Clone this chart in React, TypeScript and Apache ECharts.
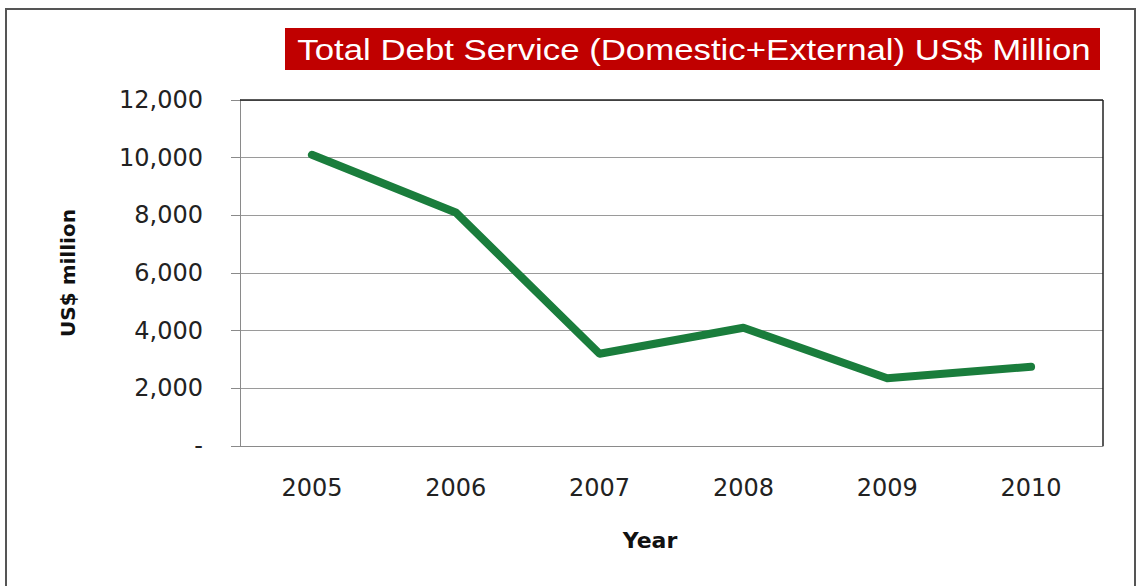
import React, { useEffect, useRef } from "react";
import * as echarts from "echarts";

const years = ["2005", "2006", "2007", "2008", "2009", "2010"];
const debtService = [10100, 8100, 3200, 4100, 2350, 2750];
const yTicks = { min: 0, max: 12000, interval: 2000 };
const titleText = "Total Debt Service (Domestic+External) US$ Million";
const yName = "US$ million";
const xName = "Year";

export default function App() {
  const ref = useRef<HTMLDivElement>(null);
  useEffect(() => {
    if (!ref.current) return;
    const chart = echarts.init(ref.current, null, { renderer: "svg" });
    const font = "'DejaVu Sans', 'Open Sans', sans-serif";
    chart.setOption({
      animation: false,
      backgroundColor: "#ffffff",
      grid: { left: 240, right: 35, top: 100, bottom: 140, containLabel: false },
      xAxis: {
        type: "category",
        data: years,
        boundaryGap: true,
        axisLine: { show: true, lineStyle: { color: "#8a8a8a", width: 1 } },
        axisTick: { show: false },
        axisLabel: { color: "#222", fontSize: 24, fontFamily: font, margin: 30 },
      },
      yAxis: {
        type: "value",
        min: yTicks.min,
        max: yTicks.max,
        interval: yTicks.interval,
        axisLine: { show: true, lineStyle: { color: "#8a8a8a", width: 1 } },
        axisTick: { show: true, length: 9, lineStyle: { color: "#8a8a8a" } },
        splitLine: { show: true, lineStyle: { color: "#9a9a9a", width: 1 } },
        axisLabel: {
          color: "#222",
          fontSize: 24,
          fontFamily: font,
          margin: 37,
          formatter: (v: number) => (v === 0 ? "-" : v.toLocaleString("en-US")),
        },
        name: yName,
        nameLocation: "middle",
        nameGap: 162,
        nameRotate: 90,
        nameTextStyle: { color: "#111", fontSize: 20, fontWeight: "bold", fontFamily: font },
      },
      graphic: [
        {
          type: "rect",
          shape: { x: 6, y: 9, width: 1129, height: 600 },
          style: { fill: "none", stroke: "#555", lineWidth: 2 },
          z: 0,
        },
        {
          type: "line",
          shape: { x1: 240, y1: 100, x2: 1103, y2: 100 },
          style: { stroke: "#222", lineWidth: 1.5 },
          z: 5,
        },
        {
          type: "line",
          shape: { x1: 1103, y1: 100, x2: 1103, y2: 446 },
          style: { stroke: "#222", lineWidth: 1.5 },
          z: 5,
        },
        {
          type: "rect",
          shape: { x: 285, y: 28, width: 815, height: 42 },
          style: { fill: "#C00000" },
          z: 5,
        },
        {
          type: "text",
          x: 694,
          y: 50,
          scaleX: 1.16,
          style: {
            text: titleText,
            fill: "#ffffff",
            fontSize: 30,
            fontFamily: "'Liberation Sans', Arial, sans-serif",
            align: "center",
            verticalAlign: "middle",
          },
          z: 6,
        },
        {
          type: "text",
          x: 650,
          y: 540,
          style: {
            text: xName,
            fill: "#111",
            fontSize: 22,
            fontWeight: "bold",
            fontFamily: font,
            align: "center",
            verticalAlign: "middle",
          },
          z: 6,
        },
      ],
      series: [
        {
          type: "line",
          data: debtService,
          showSymbol: false,
          symbol: "none",
          lineStyle: { color: "#1A7D3C", width: 8, cap: "round", join: "round" },
          itemStyle: { color: "#1A7D3C" },
        },
      ],
    });
    return () => chart.dispose();
  }, []);
  return (
    <div
      ref={ref}
      style={{ position: "fixed", left: 0, top: 0, width: 1138, height: 586 }}
    />
  );
}
